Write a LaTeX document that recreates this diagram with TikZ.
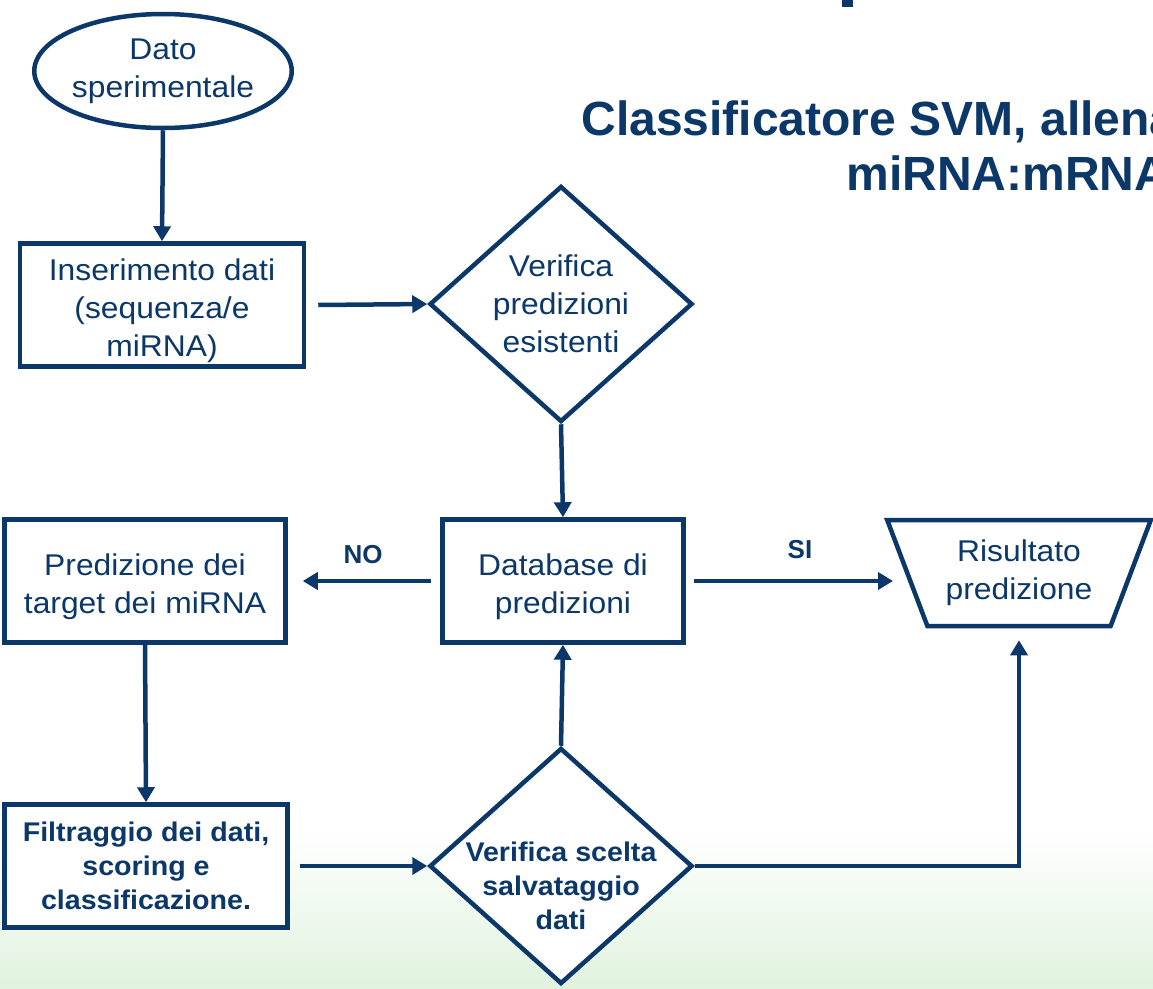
\documentclass[tikz,border=0pt]{standalone}
\usepackage{fontspec}
\setmainfont{Liberation Sans}
\newfontfamily\boxfont[FakeStretch=1.06]{Liberation Sans}
\usetikzlibrary{arrows.meta,shapes.geometric,calc}
\definecolor{navy}{RGB}{11,56,104}
\definecolor{bgreen}{RGB}{224,243,222}
\newcommand\lowstrut{\rule{0pt}{34pt}}

\begin{document}
\begin{tikzpicture}[x=1pt, y=-1pt, >={Triangle[length=15pt,width=17pt]},
    txt/.style={text=navy, align=center, font=\boxfont\fontsize{30}{38}\selectfont},
    btxt/.style={text=navy, align=center, font=\boxfont\fontsize{27}{34}\selectfont\bfseries},
    term/.style={txt, draw=navy, line width=4.5pt, ellipse, inner sep=0pt,
                 minimum width=250pt, minimum height=114pt},
    blk/.style={draw=navy, line width=4.5pt, fill=white, inner sep=0pt,
                minimum width=#1, minimum height=123pt},
    dec/.style={draw=navy, line width=4.5pt, fill=white, diamond, inner sep=-30pt,
                minimum width=263pt, minimum height=236pt},
    outp/.style={txt, draw=navy, line width=4.5pt, fill=white, trapezium,
                 shape border rotate=180, trapezium left angle=64,
                 trapezium right angle=64, trapezium stretches=true,
                 inner sep=0pt, minimum width=264pt, minimum height=106pt},
    arr/.style={->, navy, line width=4.5pt},
    lbl/.style={text=navy, font=\fontsize{26}{30}\selectfont\bfseries}]

  %% Page and background
  \useasboundingbox (0,0) rectangle (1153,988);
  \clip (0,0) rectangle (1153,988);
  \fill[white] (0,0) rectangle (1153,988);
  \shade[top color=white, bottom color=bgreen] (0,830) rectangle (1153,988);

  %% Slide title (cut by the page edge)
  \fill[navy] (842,0) rectangle (853,7);
  \node[text=navy, font=\fontsize{48}{56}\selectfont\bfseries, anchor=base west]
    (tit1) at (578,135) {Classificatore SVM, allena};
  \node[text=navy, font=\fontsize{48}{56}\selectfont\bfseries, anchor=base west]
    (tit2) at (843,190) {miRNA:mRNA};

  %% Flow chart nodes
  \node[term] (dato) at (163,71) {Dato\\sperimentale};
  \node[blk=284pt, txt] (ins) at (162,305)
    {\lowstrut Inserimento dati\\(sequenza/e\\miRNA)};
  \node[dec, txt] (ver1) at (561,304)
    {Verifica\\predizioni\\esistenti};
  \node[blk=241pt, txt] (db) at (563,581) {\lowstrut Database di\\predizioni};
  \node[blk=281pt, txt] (pred) at (145,581)
    {\lowstrut Predizione dei\\target dei miRNA};
  \node[outp] (ris) at (1019,573) {Risultato\\predizione};
  \node[blk=283pt, btxt] (filt) at (146,866)
    {Filtraggio dei dati,\\scoring e\\classificazione.};
  \node[dec] (ver2) at (561,866) {};
  \node[btxt] (ver2t) at (561,886) {Verifica scelta\\salvataggio\\dati};

  %% Connectors
  \draw[arr] (dato.south) -- (ins.north);
  \draw[arr] ([xshift=12pt]ins.east) -- (ver1.west);
  \draw[arr] (ver1.south) -- (db.north);
  \draw[arr] ([xshift=-9pt]db.west) -- ([xshift=15pt]pred.east);
  \draw[arr] ([xshift=8pt]db.east) -- ([xshift=-126pt]db.east -| ris.center);
  \draw[arr] (pred.south) -- (filt.north);
  \draw[arr] ([xshift=10pt]filt.east) -- (ver2.west);
  \draw[arr] (ver2.north) -- (db.south);
  \draw[arr] (ver2.east) -| ([yshift=-12pt]ris.south);

  %% Branch labels
  \node[lbl] (no) at (363,555) {NO};
  \node[lbl] (si) at (800,550) {SI};
\end{tikzpicture}
\end{document}
